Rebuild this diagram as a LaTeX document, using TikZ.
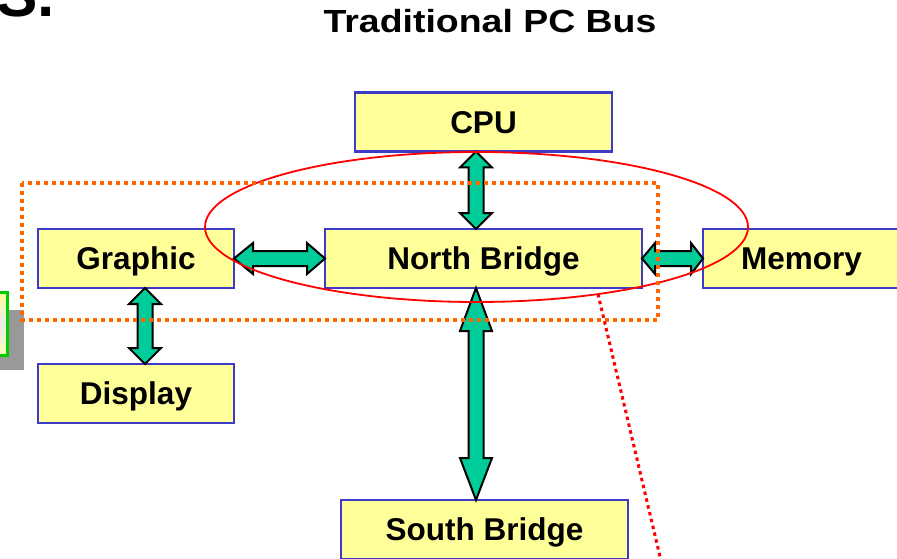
\documentclass[tikz,border=0pt]{standalone}
\usepackage{fontspec}
\setmainfont{Liberation Sans}
\usetikzlibrary{calc}
\definecolor{boxfill}{HTML}{FFFF99}
\definecolor{boxline}{HTML}{3C3CC8}
\definecolor{busfill}{HTML}{00CC99}
\definecolor{orangedot}{HTML}{FF6600}
\definecolor{shadowgray}{HTML}{999999}
\definecolor{greenline}{HTML}{00CC00}
\tikzset{
  unitbox/.style={draw=boxline, fill=boxfill, line width=2.2pt, inner sep=0pt, outer sep=0pt,
    font=\fontsize{31.5}{36}\selectfont\bfseries, text height=22.7pt, text depth=0pt,
    minimum height=59pt},
  busarrow/.style={fill=busfill, draw=black, line width=2pt, line join=miter},
}
\newcommand\vbus[4]{%
  \filldraw[busarrow] let \p1=(#1), \p2=(#2) in
  (\x1,\y1) -- (\x1+16pt,\y1-#3) -- (\x1+7.5pt,\y1-#3) -- (\x1+7.5pt,\y2+#4) -- (\x1+16pt,\y2+#4)
  -- (\x1,\y2) -- (\x1-16pt,\y2+#4) -- (\x1-7.5pt,\y2+#4) -- (\x1-7.5pt,\y1-#3) -- (\x1-16pt,\y1-#3) -- cycle;}
\newcommand\hbus[4]{%
  \filldraw[busarrow] let \p1=(#1), \p2=(#2) in
  (\x1,\y1) -- (\x1+#3,\y1+15.5pt) -- (\x1+#3,\y1+7.5pt) -- (\x2-#4,\y1+7.5pt) -- (\x2-#4,\y1+15.5pt)
  -- (\x2,\y1) -- (\x2-#4,\y1-15.5pt) -- (\x2-#4,\y1-7.5pt) -- (\x1+#3,\y1-7.5pt) -- (\x1+#3,\y1-15.5pt) -- cycle;}
\begin{document}
\begin{tikzpicture}[x=1pt,y=-1pt]
\clip (0,0) rectangle (897,559);
\fill[white] (0,0) rectangle (897,559);

% left fragments
\node[anchor=base west, inner sep=0pt, font=\fontsize{62}{70}\selectfont\bfseries] (sdot) at (-4,17) {S.};
\fill[shadowgray] (-5,310) rectangle (24,370);
\draw[greenline, line width=3pt, top color=boxfill, bottom color=boxfill!70, middle color=white!92!black]
  (-20,292) rectangle (7,355);

% title
\node[inner sep=0pt, font=\fontsize{32}{36}\selectfont\bfseries, text height=23pt, text depth=0pt] (title) at (490,21.5)
  {\scalebox{1.17}[1]{Traditional PC Bus}};

% boxes
\node[unitbox, minimum width=257pt] (cpu) at (483.5,122) {CPU};
\node[unitbox, minimum width=196pt] (graphic) at (136,258.5) {Graphic};
\node[unitbox, minimum width=317pt] (nb) at (483.5,258.5) {North Bridge};
\node[unitbox, minimum width=197pt] (mem) at (801.5,258.5) {Memory};
\node[unitbox, minimum width=196pt] (display) at (136,393.5) {Display};
\node[unitbox, minimum width=287pt] (sb) at (484.5,529.5) {South Bridge};

% buses
\coordinate (bx) at (476,0);
\coordinate (gx) at (145,0);
\vbus{cpu.south -| bx}{nb.north -| bx}{16pt}{16pt}
\vbus{graphic.south -| gx}{display.north -| gx}{16pt}{16pt}
\vbus{nb.south -| bx}{sb.north -| bx}{43pt}{42pt}
\hbus{graphic.east}{nb.west}{19pt}{18pt}
\hbus{nb.east}{mem.west}{13pt}{12pt}

% highlights
\coordinate (ec) at (476.5,227);
\draw[red, line width=1.8pt] (ec) ellipse [x radius=271.5, y radius=75];
\draw[orangedot, line width=3.5pt, dash pattern=on 4pt off 4pt] (22,183) rectangle (658,320);
\coordinate (r1) at (598,294);
\coordinate (r2) at (662,565);
\draw[red, line width=3pt, dash pattern=on 3.5pt off 3.5pt] (r1) -- (r2);
\end{tikzpicture}
\end{document}
